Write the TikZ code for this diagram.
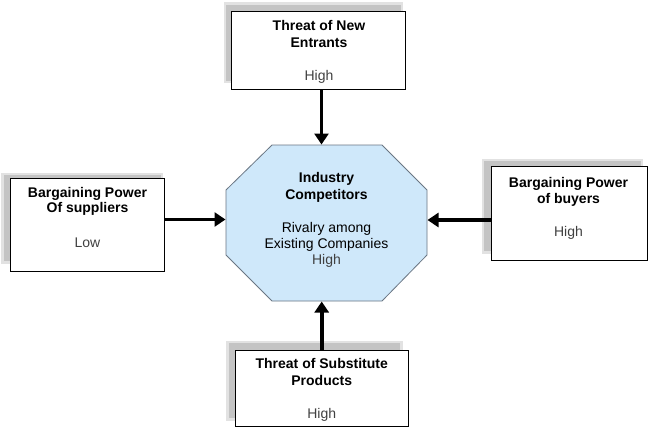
\documentclass[tikz,border=0pt]{standalone}
\usepackage{fontspec}
\setmainfont{Liberation Sans}
\usetikzlibrary{arrows.meta}
\definecolor{octfill}{HTML}{CFE8FA}
\definecolor{octline}{HTML}{6A7683}
\definecolor{lowgray}{HTML}{404040}
\definecolor{shadowA}{HTML}{E2E2E2}
\definecolor{shadowB}{HTML}{C4C4C4}
\tikzset{
  box/.style={draw=black, line width=0.8pt, fill=white, rectangle, inner sep=0pt},
  title/.style={font=\fontsize{14}{16.5}\selectfont\bfseries, align=center, anchor=base, inner sep=0pt},
  body/.style={font=\fontsize{14}{16.5}\selectfont, align=center, anchor=base, inner sep=0pt},
  level/.style={font=\fontsize{14}{16.5}\selectfont, text=lowgray, anchor=base, inner sep=0pt},
  force/.style={line width=3.8pt, -{Triangle[length=11pt,width=14pt]}, shorten >=0.5pt},
}
\newcommand{\shadowbox}[4]{%
  \fill[shadowA] (#1-1.5,#2-1.5) rectangle (#3+1.5,#4+1.5);
  \fill[shadowB] (#1+1,#2+1) rectangle (#3-1,#4-1);
}
\begin{document}
\begin{tikzpicture}[x=1pt,y=-1pt]
\useasboundingbox (0,0) rectangle (652,432);
\fill[white] (0,0) rectangle (652,432);

% shadows
\shadowbox{225}{3.5}{401.5}{81.5}
\shadowbox{2.5}{174}{161.5}{262}
\shadowbox{483}{160}{641.5}{252}
\shadowbox{227.5}{342}{401}{419}

% boxes
\node[box, minimum width=174pt, minimum height=77.5pt] (top) at (318.7,50.4) {};
\node[box, minimum width=153.5pt, minimum height=92.5pt] (left) at (87.5,224.7) {};
\node[box, minimum width=156pt, minimum height=93.5pt] (right) at (569.7,213.4) {};
\node[box, minimum width=173.5pt, minimum height=76.5pt] (bottom) at (321.7,388.3) {};

% octagon
\draw[octline, fill=octfill, line width=0.8pt]
  (272,145) -- (382,145) -- (427,190) -- (427,255) -- (382,301) -- (272,301) -- (226,255) -- (226,190) -- cycle;
\coordinate (octT) at (321.5,145);
\coordinate (octB) at (321.7,301);
\coordinate (octL) at (226,219.5);
\coordinate (octR) at (427,220);

% texts
\node[title] (t1) at (319,30) {Threat of New};
\node[title] (t2) at (319,47) {Entrants};
\node[level] (t3) at (319,80) {High};

\node[title] (c1) at (326.5,182.5) {Industry};
\node[title] (c2) at (326.5,199) {Competitors};
\node[body] (c3) at (326.5,232.5) {Rivalry\ among};
\node[body] (c4) at (326.5,248) {Existing\ Companies};
\node[level] (c5) at (326.5,264) {High};

\node[title] (l1) at (87.5,197) {Bargaining Power};
\node[title] (l2) at (87.5,212.5) {Of suppliers};
\node[level] (l3) at (87.5,247.5) {Low};

\node[title] (r1) at (568.5,187) {Bargaining Power};
\node[title] (r2) at (568.5,203) {of buyers};
\node[level] (r3) at (568.5,236) {High};

\node[title] (b1) at (321.7,368) {Threat of Substitute};
\node[title] (b2) at (321.7,385) {Products};
\node[level] (b3) at (321.7,418) {High};

% arrows
\draw[force] (top.south -| octT) -- (octT);
\draw[force] (bottom.north -| octB) -- (octB);
\draw[force] (left.east |- octL) -- (octL);
\draw[force] (right.west |- octR) -- (octR);
\end{tikzpicture}
\end{document}
